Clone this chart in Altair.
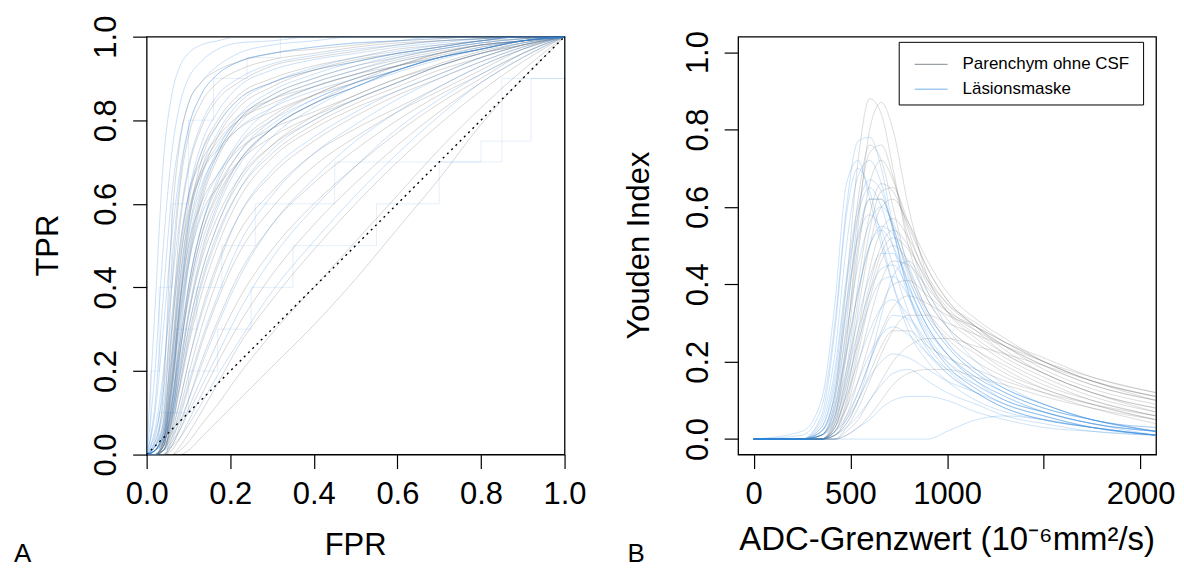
import altair as alt
import pandas as pd

FONT = "Liberation Sans"
GROUPS = ["Parenchym ohne CSF", "Läsionsmaske"]
COLORS = ["#6e6e6e", "#2f86e0"]

# ---------------- Panel A: ROC curves ----------------
roc_fpr = [0, .02, .04, .06, .08, .10, .13, .17, .22, .30, .40, .50, .60, .70, .80, .90, 1.0]

roc_gray = [
    [0, 0.02, 0.15, 0.55, 0.75, 0.84, 0.89, 0.92, 0.94, 0.96, 0.97, 0.98, 0.99, 0.995, 1, 1, 1],
    [0, 0.01, 0.08, 0.40, 0.64, 0.76, 0.84, 0.89, 0.92, 0.945, 0.96, 0.975, 0.985, 0.99, 0.995, 1, 1],
    [0, 0.01, 0.06, 0.30, 0.55, 0.68, 0.78, 0.85, 0.89, 0.93, 0.95, 0.965, 0.98, 0.99, 0.995, 1, 1],
    [0, 0, 0.04, 0.22, 0.45, 0.60, 0.72, 0.80, 0.86, 0.90, 0.93, 0.95, 0.97, 0.98, 0.99, 1, 1],
    [0, 0, 0.03, 0.18, 0.38, 0.53, 0.66, 0.76, 0.83, 0.88, 0.92, 0.945, 0.96, 0.975, 0.99, 0.995, 1],
    [0, 0, 0.03, 0.15, 0.32, 0.46, 0.60, 0.71, 0.79, 0.85, 0.89, 0.92, 0.945, 0.965, 0.98, 0.99, 1],
    [0, 0, 0.02, 0.12, 0.27, 0.40, 0.54, 0.65, 0.74, 0.81, 0.86, 0.90, 0.93, 0.955, 0.975, 0.99, 1],
    [0, 0, 0.02, 0.10, 0.22, 0.34, 0.48, 0.60, 0.70, 0.78, 0.84, 0.88, 0.92, 0.95, 0.97, 0.99, 1],
    [0, 0, 0.01, 0.08, 0.19, 0.30, 0.43, 0.55, 0.65, 0.74, 0.81, 0.86, 0.90, 0.935, 0.965, 0.985, 1],
    [0, 0, 0.01, 0.07, 0.16, 0.26, 0.38, 0.50, 0.61, 0.71, 0.78, 0.83, 0.87, 0.91, 0.95, 0.98, 1],
    [0, 0, 0.01, 0.05, 0.13, 0.22, 0.34, 0.46, 0.57, 0.67, 0.75, 0.81, 0.86, 0.90, 0.94, 0.975, 1],
    [0, 0, 0, 0.04, 0.11, 0.19, 0.30, 0.42, 0.53, 0.63, 0.72, 0.78, 0.83, 0.88, 0.93, 0.97, 1],
    [0, 0, 0, 0.03, 0.09, 0.16, 0.26, 0.37, 0.48, 0.59, 0.69, 0.76, 0.82, 0.87, 0.92, 0.97, 1],
    [0, 0, 0, 0.02, 0.07, 0.13, 0.22, 0.32, 0.43, 0.55, 0.65, 0.73, 0.80, 0.86, 0.91, 0.96, 1],
    [0, 0, 0, 0.02, 0.06, 0.11, 0.18, 0.27, 0.37, 0.49, 0.60, 0.69, 0.77, 0.84, 0.90, 0.96, 1],
    [0, 0, 0, 0.01, 0.04, 0.08, 0.14, 0.22, 0.31, 0.43, 0.55, 0.65, 0.74, 0.82, 0.89, 0.95, 1],
    [0, 0, 0, 0, 0.02, 0.05, 0.10, 0.17, 0.26, 0.37, 0.49, 0.60, 0.70, 0.79, 0.87, 0.94, 1],
    [0, 0, 0, 0, 0.01, 0.03, 0.07, 0.12, 0.19, 0.29, 0.40, 0.51, 0.62, 0.73, 0.83, 0.92, 1],
    [0, 0, 0, 0, 0, 0.01, 0.04, 0.08, 0.13, 0.21, 0.31, 0.42, 0.54, 0.66, 0.79, 0.90, 1],
    [0, 0, 0.02, 0.14, 0.36, 0.55, 0.70, 0.79, 0.85, 0.89, 0.92, 0.94, 0.96, 0.975, 0.99, 1, 1],
    [0, 0, 0.03, 0.20, 0.42, 0.57, 0.67, 0.73, 0.78, 0.82, 0.86, 0.89, 0.92, 0.95, 0.97, 0.99, 1],
    [0, 0, 0.02, 0.12, 0.30, 0.45, 0.57, 0.64, 0.70, 0.76, 0.81, 0.85, 0.89, 0.93, 0.96, 0.98, 1],
    [0, 0, 0.01, 0.09, 0.24, 0.38, 0.52, 0.62, 0.70, 0.78, 0.84, 0.89, 0.93, 0.96, 0.98, 0.99, 1],
    [0, 0.01, 0.05, 0.28, 0.50, 0.62, 0.70, 0.76, 0.81, 0.85, 0.88, 0.91, 0.94, 0.96, 0.98, 0.99, 1],
    [0, 0, 0.02, 0.16, 0.34, 0.48, 0.62, 0.72, 0.80, 0.86, 0.90, 0.93, 0.95, 0.97, 0.985, 0.995, 1],
    [0, 0, 0.02, 0.11, 0.25, 0.38, 0.52, 0.63, 0.72, 0.80, 0.86, 0.90, 0.93, 0.96, 0.98, 0.99, 1],
    [0, 0, 0.01, 0.08, 0.20, 0.33, 0.46, 0.57, 0.66, 0.74, 0.80, 0.85, 0.89, 0.93, 0.96, 0.985, 1],
    [0, 0, 0.01, 0.06, 0.17, 0.28, 0.41, 0.53, 0.63, 0.72, 0.79, 0.84, 0.88, 0.92, 0.95, 0.98, 1],
    [0, 0.01, 0.04, 0.24, 0.46, 0.58, 0.68, 0.75, 0.80, 0.84, 0.88, 0.91, 0.93, 0.95, 0.97, 0.99, 1],
    [0, 0, 0.03, 0.17, 0.37, 0.50, 0.60, 0.67, 0.73, 0.78, 0.82, 0.86, 0.90, 0.93, 0.96, 0.98, 1],
]

roc_blue = [
    [0, 0.35, 0.70, 0.86, 0.93, 0.96, 0.98, 0.99, 1, 1, 1, 1, 1, 1, 1, 1, 1],
    [0, 0.20, 0.50, 0.72, 0.84, 0.90, 0.94, 0.97, 0.985, 0.99, 1, 1, 1, 1, 1, 1, 1],
    [0, 0.10, 0.30, 0.52, 0.68, 0.78, 0.86, 0.91, 0.94, 0.96, 0.975, 0.985, 0.99, 0.995, 1, 1, 1],
    [0, 0.06, 0.20, 0.40, 0.57, 0.69, 0.79, 0.86, 0.90, 0.935, 0.955, 0.97, 0.98, 0.99, 0.995, 1, 1],
    [0, 0.03, 0.12, 0.30, 0.48, 0.62, 0.74, 0.82, 0.88, 0.92, 0.945, 0.96, 0.975, 0.985, 0.995, 1, 1],
    [0, 0.02, 0.08, 0.22, 0.40, 0.55, 0.68, 0.77, 0.84, 0.89, 0.925, 0.95, 0.965, 0.98, 0.99, 1, 1],
    [0, 0.02, 0.06, 0.17, 0.33, 0.47, 0.61, 0.72, 0.80, 0.86, 0.90, 0.93, 0.955, 0.97, 0.985, 0.995, 1],
    [0, 0.01, 0.05, 0.13, 0.27, 0.40, 0.54, 0.66, 0.75, 0.83, 0.88, 0.91, 0.94, 0.96, 0.98, 0.99, 1],
    [0, 0.01, 0.04, 0.10, 0.21, 0.33, 0.47, 0.59, 0.69, 0.78, 0.84, 0.88, 0.915, 0.945, 0.97, 0.99, 1],
    [0, 0.01, 0.03, 0.08, 0.17, 0.27, 0.40, 0.52, 0.63, 0.73, 0.80, 0.85, 0.89, 0.93, 0.96, 0.985, 1],
    [0, 0, 0.02, 0.06, 0.13, 0.22, 0.33, 0.45, 0.57, 0.68, 0.76, 0.82, 0.87, 0.91, 0.95, 0.98, 1],
    [0, 0, 0.02, 0.05, 0.10, 0.17, 0.27, 0.38, 0.50, 0.62, 0.72, 0.79, 0.85, 0.90, 0.94, 0.975, 1],
    [0, 0, 0.01, 0.04, 0.08, 0.13, 0.21, 0.31, 0.42, 0.55, 0.66, 0.75, 0.82, 0.88, 0.93, 0.97, 1],
    [0, 0, 0.01, 0.03, 0.06, 0.10, 0.16, 0.24, 0.34, 0.47, 0.59, 0.69, 0.78, 0.85, 0.91, 0.96, 1],
    [0, 0, 0.01, 0.02, 0.04, 0.07, 0.12, 0.19, 0.27, 0.39, 0.51, 0.62, 0.72, 0.81, 0.89, 0.95, 1],
    [0, 0.04, 0.18, 0.45, 0.66, 0.78, 0.86, 0.91, 0.94, 0.96, 0.975, 0.985, 0.99, 1, 1, 1, 1],
    [0, 0.01, 0.05, 0.16, 0.36, 0.52, 0.64, 0.72, 0.78, 0.83, 0.87, 0.90, 0.93, 0.95, 0.97, 0.99, 1],
    [0, 0.01, 0.03, 0.09, 0.24, 0.40, 0.54, 0.64, 0.72, 0.79, 0.85, 0.89, 0.92, 0.95, 0.97, 0.99, 1],
    [0, 0.12, 0.38, 0.62, 0.76, 0.84, 0.89, 0.93, 0.96, 0.98, 0.99, 1, 1, 1, 1, 1, 1],
    [0, 0.03, 0.10, 0.24, 0.42, 0.56, 0.67, 0.74, 0.80, 0.85, 0.89, 0.92, 0.95, 0.97, 0.985, 0.995, 1],
    [0, 0.02, 0.07, 0.19, 0.36, 0.50, 0.63, 0.73, 0.81, 0.87, 0.91, 0.94, 0.96, 0.975, 0.99, 1, 1],
    [0, 0.01, 0.04, 0.12, 0.25, 0.37, 0.50, 0.61, 0.70, 0.78, 0.84, 0.88, 0.92, 0.95, 0.97, 0.99, 1],
    [0, 0.01, 0.03, 0.09, 0.19, 0.30, 0.43, 0.55, 0.66, 0.76, 0.83, 0.88, 0.92, 0.95, 0.975, 0.99, 1],
    [0, 0.05, 0.15, 0.33, 0.50, 0.62, 0.72, 0.79, 0.85, 0.89, 0.92, 0.94, 0.96, 0.975, 0.99, 1, 1],
    [0, 0.01, 0.04, 0.11, 0.28, 0.45, 0.58, 0.67, 0.74, 0.80, 0.85, 0.89, 0.92, 0.95, 0.97, 0.99, 1],
]

# stepped ROC curves of small lesions (Läsionsmaske)
roc_step_fpr = [
    [0, 0.01, 0.03, 0.06, 0.10, 0.16, 0.24, 0.32, 1.0],
    [0, 0.03, 0.07, 0.12, 0.18, 0.26, 0.45, 0.80, 0.92, 1.0],
    [0, 0.05, 0.10, 0.17, 0.25, 0.35, 0.55, 0.70, 0.85, 1.0],
]
roc_step_tpr = [
    [0, 0.2, 0.4, 0.6, 0.8, 0.9, 0.95, 1.0, 1.0],
    [0, 0.1, 0.3, 0.4, 0.5, 0.6, 0.7, 0.75, 0.9, 1.0],
    [0, 0.1, 0.2, 0.3, 0.4, 0.5, 0.6, 0.7, 0.9, 1.0],
]

diag_x = [0, 1]
diag_y = [0, 1]

# ---------------- Panel B: Youden index ----------------
adc = [0, 250, 350, 420, 480, 540, 600, 660, 720, 800, 900, 1000, 1150, 1300, 1500, 1750, 2080]

youden_gray = [
    [0, 0, 0.02, 0.12, 0.40, 0.72, 0.88, 0.84, 0.70, 0.50, 0.36, 0.29, 0.23, 0.18, 0.13, 0.09, 0.05],
    [0, 0, 0.01, 0.06, 0.25, 0.55, 0.80, 0.87, 0.80, 0.60, 0.42, 0.33, 0.26, 0.21, 0.16, 0.11, 0.07],
    [0, 0, 0.01, 0.08, 0.30, 0.58, 0.74, 0.76, 0.68, 0.52, 0.38, 0.31, 0.25, 0.20, 0.15, 0.10, 0.06],
    [0, 0, 0, 0.05, 0.22, 0.48, 0.66, 0.72, 0.67, 0.54, 0.41, 0.34, 0.28, 0.22, 0.17, 0.12, 0.08],
    [0, 0, 0, 0.04, 0.18, 0.40, 0.58, 0.66, 0.64, 0.55, 0.44, 0.36, 0.29, 0.24, 0.18, 0.13, 0.09],
    [0, 0, 0, 0.03, 0.14, 0.33, 0.50, 0.60, 0.62, 0.56, 0.46, 0.38, 0.31, 0.26, 0.20, 0.15, 0.10],
    [0, 0, 0, 0.03, 0.12, 0.28, 0.44, 0.54, 0.57, 0.52, 0.42, 0.35, 0.29, 0.24, 0.19, 0.14, 0.10],
    [0, 0, 0, 0.02, 0.10, 0.24, 0.38, 0.48, 0.52, 0.49, 0.41, 0.35, 0.30, 0.25, 0.20, 0.15, 0.11],
    [0, 0, 0, 0.02, 0.08, 0.19, 0.31, 0.41, 0.46, 0.45, 0.39, 0.33, 0.28, 0.24, 0.19, 0.14, 0.10],
    [0, 0, 0, 0.01, 0.06, 0.15, 0.25, 0.34, 0.40, 0.41, 0.37, 0.33, 0.29, 0.25, 0.20, 0.15, 0.11],
    [0, 0, 0, 0.01, 0.05, 0.12, 0.20, 0.28, 0.34, 0.37, 0.35, 0.32, 0.29, 0.25, 0.21, 0.16, 0.12],
    [0, 0, 0, 0, 0.03, 0.08, 0.15, 0.22, 0.28, 0.32, 0.32, 0.30, 0.27, 0.24, 0.20, 0.16, 0.12],
    [0, 0, 0, 0, 0.02, 0.05, 0.10, 0.15, 0.20, 0.24, 0.26, 0.26, 0.24, 0.22, 0.19, 0.15, 0.11],
    [0, 0, 0.01, 0.10, 0.35, 0.62, 0.76, 0.72, 0.60, 0.44, 0.32, 0.26, 0.20, 0.16, 0.12, 0.08, 0.04],
    [0, 0, 0, 0.06, 0.26, 0.50, 0.62, 0.62, 0.55, 0.43, 0.33, 0.27, 0.22, 0.17, 0.13, 0.09, 0.05],
    [0, 0, 0, 0.02, 0.09, 0.22, 0.36, 0.46, 0.50, 0.46, 0.36, 0.29, 0.23, 0.19, 0.14, 0.10, 0.06],
    [0, 0, 0, 0.01, 0.04, 0.10, 0.17, 0.24, 0.28, 0.28, 0.24, 0.21, 0.18, 0.15, 0.12, 0.09, 0.06],
    [0, 0, 0, 0, 0.01, 0.03, 0.06, 0.10, 0.14, 0.17, 0.18, 0.18, 0.16, 0.14, 0.11, 0.08, 0.05],
    [0, 0, 0, 0.04, 0.16, 0.36, 0.54, 0.64, 0.65, 0.56, 0.44, 0.36, 0.29, 0.23, 0.17, 0.12, 0.07],
    [0, 0, 0, 0.03, 0.12, 0.26, 0.40, 0.50, 0.54, 0.50, 0.40, 0.33, 0.27, 0.22, 0.17, 0.12, 0.08],
]

youden_blue = [
    [0, 0.01, 0.08, 0.30, 0.60, 0.77, 0.78, 0.70, 0.55, 0.38, 0.26, 0.19, 0.13, 0.09, 0.06, 0.03, 0.01],
    [0, 0, 0.05, 0.22, 0.50, 0.68, 0.72, 0.66, 0.54, 0.38, 0.27, 0.20, 0.14, 0.10, 0.07, 0.04, 0.02],
    [0, 0, 0.04, 0.18, 0.42, 0.60, 0.67, 0.64, 0.54, 0.40, 0.29, 0.22, 0.16, 0.12, 0.08, 0.05, 0.02],
    [0, 0, 0.03, 0.14, 0.35, 0.53, 0.62, 0.62, 0.55, 0.42, 0.31, 0.24, 0.17, 0.13, 0.09, 0.05, 0.02],
    [0, 0, 0.02, 0.11, 0.28, 0.45, 0.56, 0.60, 0.56, 0.45, 0.33, 0.25, 0.18, 0.13, 0.09, 0.05, 0.03],
    [0, 0, 0.02, 0.09, 0.23, 0.38, 0.50, 0.55, 0.53, 0.44, 0.33, 0.25, 0.18, 0.13, 0.09, 0.05, 0.03],
    [0, 0, 0.01, 0.07, 0.18, 0.31, 0.42, 0.48, 0.48, 0.41, 0.31, 0.24, 0.17, 0.12, 0.08, 0.05, 0.02],
    [0, 0, 0.01, 0.05, 0.14, 0.25, 0.35, 0.41, 0.42, 0.37, 0.28, 0.22, 0.16, 0.12, 0.08, 0.05, 0.02],
    [0, 0, 0.01, 0.04, 0.11, 0.20, 0.28, 0.34, 0.36, 0.32, 0.25, 0.20, 0.15, 0.11, 0.07, 0.04, 0.02],
    [0, 0, 0, 0.03, 0.08, 0.15, 0.22, 0.27, 0.29, 0.27, 0.22, 0.18, 0.14, 0.10, 0.07, 0.04, 0.01],
    [0, 0, 0, 0.02, 0.05, 0.10, 0.16, 0.20, 0.22, 0.21, 0.18, 0.15, 0.12, 0.09, 0.06, 0.03, 0.01],
    [0, 0, 0.06, 0.28, 0.58, 0.70, 0.64, 0.52, 0.40, 0.28, 0.20, 0.15, 0.10, 0.07, 0.05, 0.03, 0.01],
    [0, 0, 0.02, 0.12, 0.33, 0.52, 0.58, 0.54, 0.45, 0.33, 0.23, 0.17, 0.12, 0.08, 0.05, 0.03, 0.01],
    [0, 0, 0, 0.02, 0.06, 0.12, 0.20, 0.27, 0.32, 0.31, 0.24, 0.18, 0.12, 0.08, 0.05, 0.03, 0.01],
    [0, 0, 0, 0.01, 0.03, 0.06, 0.10, 0.14, 0.17, 0.18, 0.15, 0.12, 0.09, 0.06, 0.04, 0.02, 0.01],
    [0, 0, 0, 0, 0.01, 0.03, 0.05, 0.08, 0.10, 0.11, 0.11, 0.10, 0.07, 0.05, 0.03, 0.02, 0.01],
    [0, 0.02, 0.10, 0.35, 0.66, 0.72, 0.62, 0.50, 0.40, 0.30, 0.22, 0.17, 0.12, 0.08, 0.05, 0.03, 0.01],
    [0, 0, 0, 0.01, 0.04, 0.10, 0.20, 0.32, 0.42, 0.46, 0.38, 0.29, 0.20, 0.14, 0.09, 0.05, 0.02],
    [0, 0, 0, 0, 0, 0, 0, 0, 0, 0, 0, 0.02, 0.05, 0.06, 0.05, 0.03, 0.01],
    [0, 0, 0.03, 0.16, 0.40, 0.58, 0.65, 0.60, 0.50, 0.37, 0.26, 0.19, 0.13, 0.09, 0.06, 0.03, 0.01],
    [0, 0, 0.01, 0.08, 0.22, 0.38, 0.50, 0.54, 0.50, 0.40, 0.29, 0.22, 0.15, 0.10, 0.07, 0.04, 0.02],
    [0, 0, 0.01, 0.06, 0.16, 0.28, 0.38, 0.44, 0.45, 0.39, 0.29, 0.22, 0.15, 0.11, 0.07, 0.04, 0.02],
]

# ---------------- build tables ----------------
def long_table(xs_list, ys_list, group, xname, yname, prefix):
    rows = []
    for i, (xs, ys) in enumerate(zip(xs_list, ys_list)):
        for x, y in zip(xs, ys):
            rows.append({"curve": f"{prefix}{i}", "group": group, xname: x, yname: y})
    return pd.DataFrame(rows)

roc_g_df = long_table([roc_fpr] * len(roc_gray), roc_gray, GROUPS[0], "fpr", "tpr", "g")
roc_b_df = long_table([roc_fpr] * len(roc_blue), roc_blue, GROUPS[1], "fpr", "tpr", "b")
roc_s_df = long_table(roc_step_fpr, roc_step_tpr, GROUPS[1], "fpr", "tpr", "s")
diag_df = pd.DataFrame({"fpr": diag_x, "tpr": diag_y})
you_g_df = long_table([adc] * len(youden_gray), youden_gray, GROUPS[0], "adc", "youden", "g")
you_b_df = long_table([adc] * len(youden_blue), youden_blue, GROUPS[1], "adc", "youden", "b")

W = H = 419
color_scale = alt.Scale(domain=GROUPS, range=COLORS)


def axis_x(values, fmt, expr=None):
    kw = dict(values=values, format=fmt, title=None, grid=False, domain=False,
              ticks=True, tickSize=14, tickWidth=1.2, tickColor="black",
              labelFont=FONT, labelFontSize=31, labelColor="black",
              labelFlush=False, labelOverlap=False, labelPadding=11,
              labelAngle=0, labelAlign="center", labelBaseline="top")
    if expr:
        kw["labelExpr"] = expr
    return alt.Axis(**kw)


def axis_y(values, fmt):
    return alt.Axis(values=values, format=fmt, title=None, grid=False, domain=False,
                    ticks=True, tickSize=14, tickWidth=1.2, tickColor="black",
                    labelFont=FONT, labelFontSize=31, labelColor="black",
                    labelFlush=False, labelOverlap=False, labelPadding=17,
                    labelAngle=270, labelAlign="center", labelBaseline="alphabetic")


def text_layer(txt, x, y, size=31, angle=0, align="center", baseline="middle"):
    return alt.Chart(pd.DataFrame({"t": [txt]})).mark_text(
        font=FONT, fontSize=size, angle=angle, align=align, baseline=baseline, color="black"
    ).encode(text="t:N", x=alt.value(x), y=alt.value(y))


ticks01 = [0, 0.2, 0.4, 0.6, 0.8, 1.0]

# ----- panel A -----
xA = alt.X("fpr:Q", scale=alt.Scale(domain=[0, 1], nice=False, zero=False), axis=axis_x(ticks01, ".1f"))
yA = alt.Y("tpr:Q", scale=alt.Scale(domain=[0, 1], nice=False, zero=False), axis=axis_y(ticks01, ".1f"))


def roc_lines(df, interp, op):
    return alt.Chart(df).mark_line(interpolate=interp, strokeWidth=1, opacity=op, clip=True).encode(
        x=xA, y=yA, detail="curve:N",
        color=alt.Color("group:N", scale=color_scale, legend=None))


panelA = alt.layer(
    roc_lines(roc_g_df, "monotone", 0.27),
    roc_lines(roc_b_df, "monotone", 0.25),
    roc_lines(roc_s_df, "step-after", 0.13),
    alt.Chart(diag_df).mark_line(color="black", strokeWidth=1.4, strokeDash=[2, 4]).encode(x=xA, y=yA),
    text_layer("TPR", -98, 209.5, angle=270),
    text_layer("FPR", 209.5, 511),
    text_layer("A", -133, 527, size=26, align="left", baseline="alphabetic"),
).properties(width=W, height=H)

# ----- panel B -----
xB = alt.X("adc:Q", scale=alt.Scale(domain=[-80, 2080], nice=False, zero=False),
           axis=axis_x([0, 500, 1000, 1500, 2000], "d", "datum.value == 1500 ? '' : datum.label"))
yB = alt.Y("youden:Q", scale=alt.Scale(domain=[-0.04, 1.04], nice=False, zero=False),
           axis=axis_y(ticks01, ".1f"))


def you_lines(df, op):
    return alt.Chart(df).mark_line(interpolate="monotone", strokeWidth=1, opacity=op, clip=True).encode(
        x=xB, y=yB, detail="curve:N",
        color=alt.Color("group:N", scale=color_scale, legend=None))


legend_df = pd.DataFrame({"t": [""]})
legend_box = alt.Chart(legend_df).mark_rect(fill="white", stroke="black", strokeWidth=1).encode(
    x=alt.value(161.5), x2=alt.value(406.5), y=alt.value(5.7), y2=alt.value(68.5))
leg_gray = alt.Chart(legend_df).mark_rule(color="#9aa2a8", strokeWidth=1.5).encode(
    x=alt.value(177), x2=alt.value(210), y=alt.value(27.8))
leg_blue = alt.Chart(legend_df).mark_rule(color="#a3cbf2", strokeWidth=1.5).encode(
    x=alt.value(177), x2=alt.value(210), y=alt.value(52.8))

panelB = alt.layer(
    you_lines(you_g_df, 0.24),
    you_lines(you_b_df, 0.24),
    legend_box, leg_gray, leg_blue,
    text_layer(GROUPS[0], 225, 27.8, size=17, align="left"),
    text_layer(GROUPS[1], 225, 52.8, size=17, align="left"),
    text_layer("Youden Index", -98, 209.5, angle=270),
    text_layer("ADC-Grenzwert (10⁻⁶mm²/s)", 209.5, 505, size=33),
    text_layer("B", -111, 527, size=26, align="left", baseline="alphabetic"),
).properties(width=W, height=H)

chart = alt.hconcat(
    panelA, panelB, spacing=174, bounds="flush",
    padding={"left": 5, "top": 5, "right": 0, "bottom": 0},
).configure(font=FONT, background="white").configure_view(stroke="black", strokeWidth=1.3)

chart.save("out.html", embed_options={"renderer": "svg", "actions": False})
